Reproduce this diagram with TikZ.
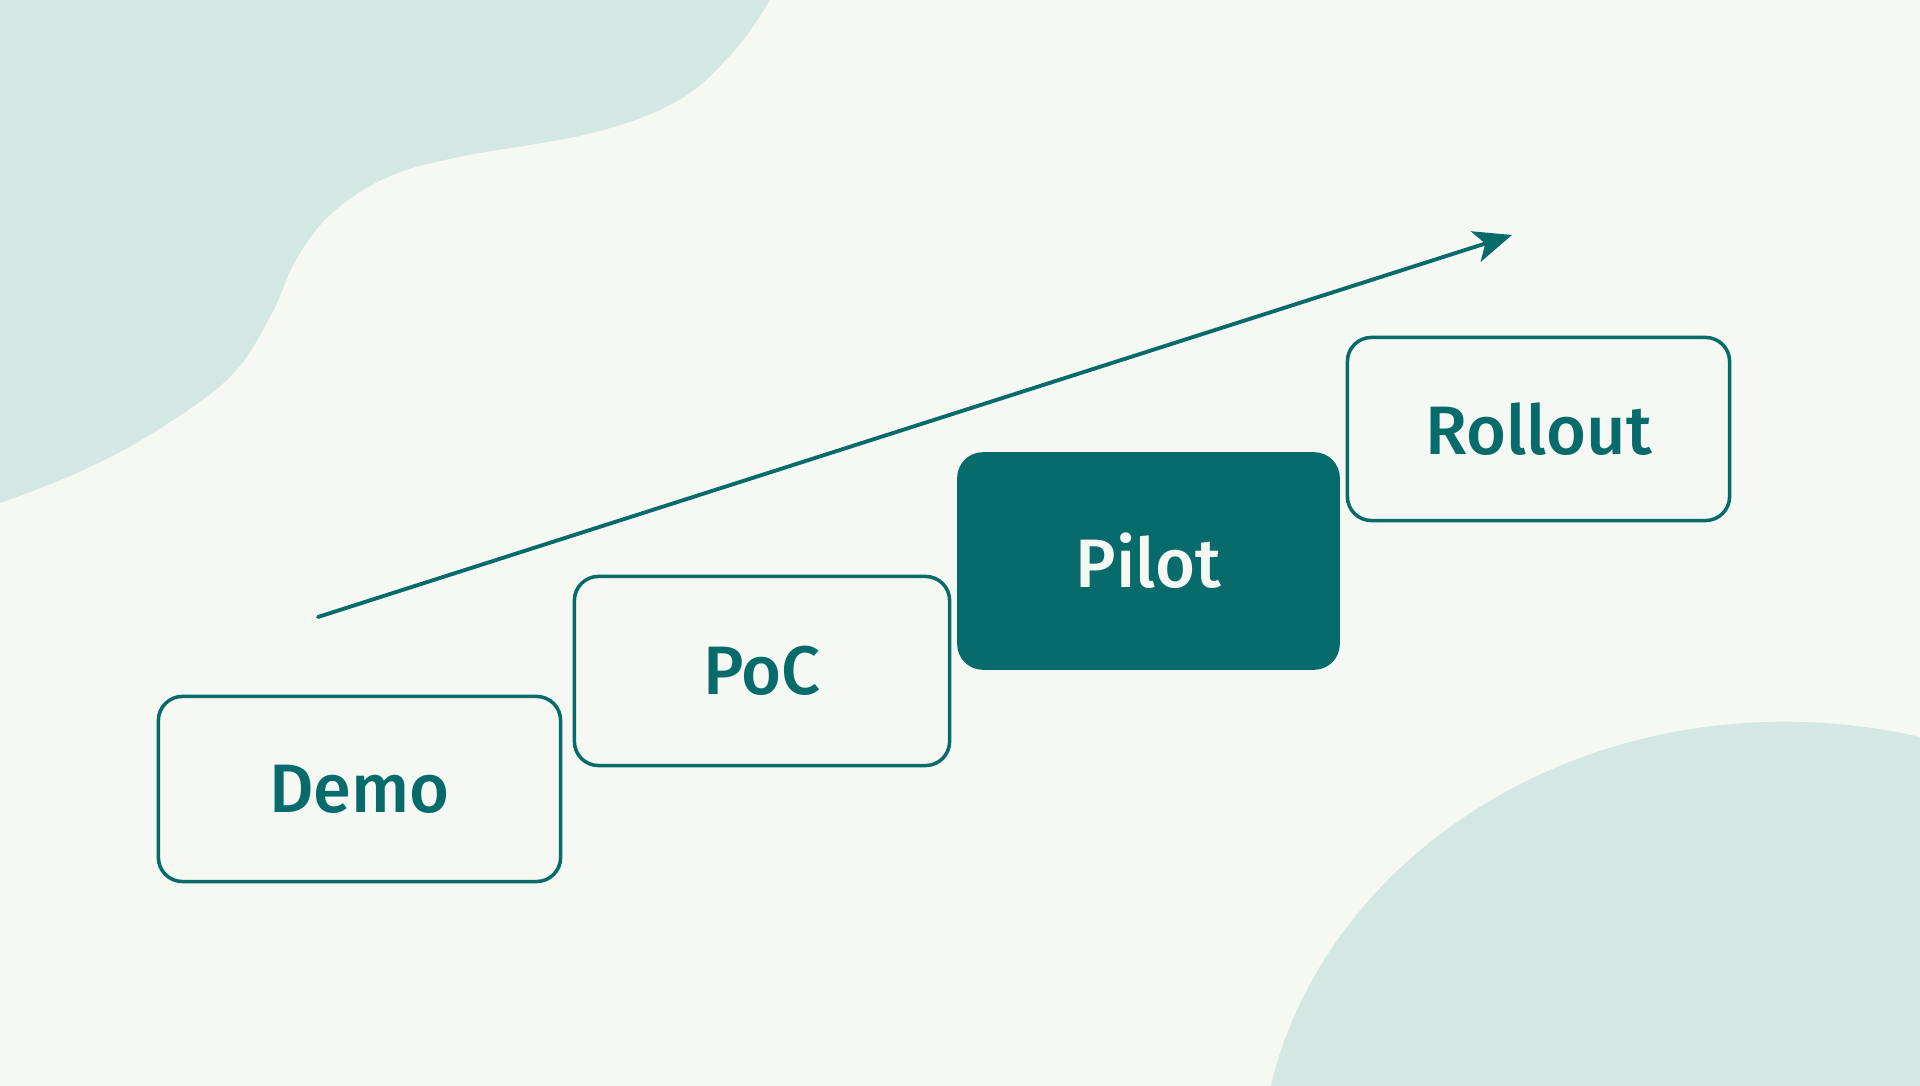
\documentclass[tikz,border=0pt]{standalone}
\usepackage{fontspec}
\setmainfont{Fira Sans}[UprightFont=* Medium]
\usetikzlibrary{arrows.meta}
\definecolor{paper}{HTML}{F6F8F4}
\definecolor{blobgreen}{HTML}{D4E8E3}
\definecolor{stagegreen}{HTML}{086B6B}
\begin{document}
\begin{tikzpicture}[x=0.01cm,y=-0.01cm,
    stagebox/.style={draw=stagegreen, line width=1pt, rounded corners=0.24cm,
      fill=paper, text=stagegreen, font=\fontsize{19.5}{23}\selectfont},
    stagefill/.style={stagebox, fill=stagegreen, text=paper}]
    % background and soft shapes
    \fill [paper] (0,0) rectangle (1920,1086);
    \useasboundingbox (0,0) rectangle (1920,1086);
    \begin{scope}
      \clip (0,0) rectangle (1920,1086);
      \fill [blobgreen] plot [smooth, tension=0.6] coordinates {(770,0) (735,50) (679,100)
        (592,133) (459,157) (388,177) (332,213) (296,260) (270,317) (230,377)
        (153,433) (77,473) (0,503)} -- (0,0) -- cycle;
      \fill [blobgreen] (1785,1180) ellipse [x radius=5.25cm, y radius=4.58cm];
    \end{scope}
    % stages
    \node [stagebox, minimum width=4.02cm, minimum height=1.85cm] (demo) at (359.5,789) {Demo};
    \node [stagebox, minimum width=3.75cm, minimum height=1.89cm] (poc) at (762,671) {PoC};
    \node [stagefill, minimum width=3.79cm, minimum height=2.14cm] (pilot) at (1148.5,561) {Pilot};
    \node [stagebox, minimum width=3.82cm, minimum height=1.83cm] (rollout) at (1538.5,429) {Rollout};
    % growth arrow
    \coordinate (start) at (318,617);
    \coordinate (tip) at (1512,235);
    \draw [stagegreen, line width=1.1pt, line cap=round,
      -{Stealth[length=0.38cm, width=0.32cm, inset=0.1cm]}] (start) -- (tip);
  \end{tikzpicture}
\end{document}
